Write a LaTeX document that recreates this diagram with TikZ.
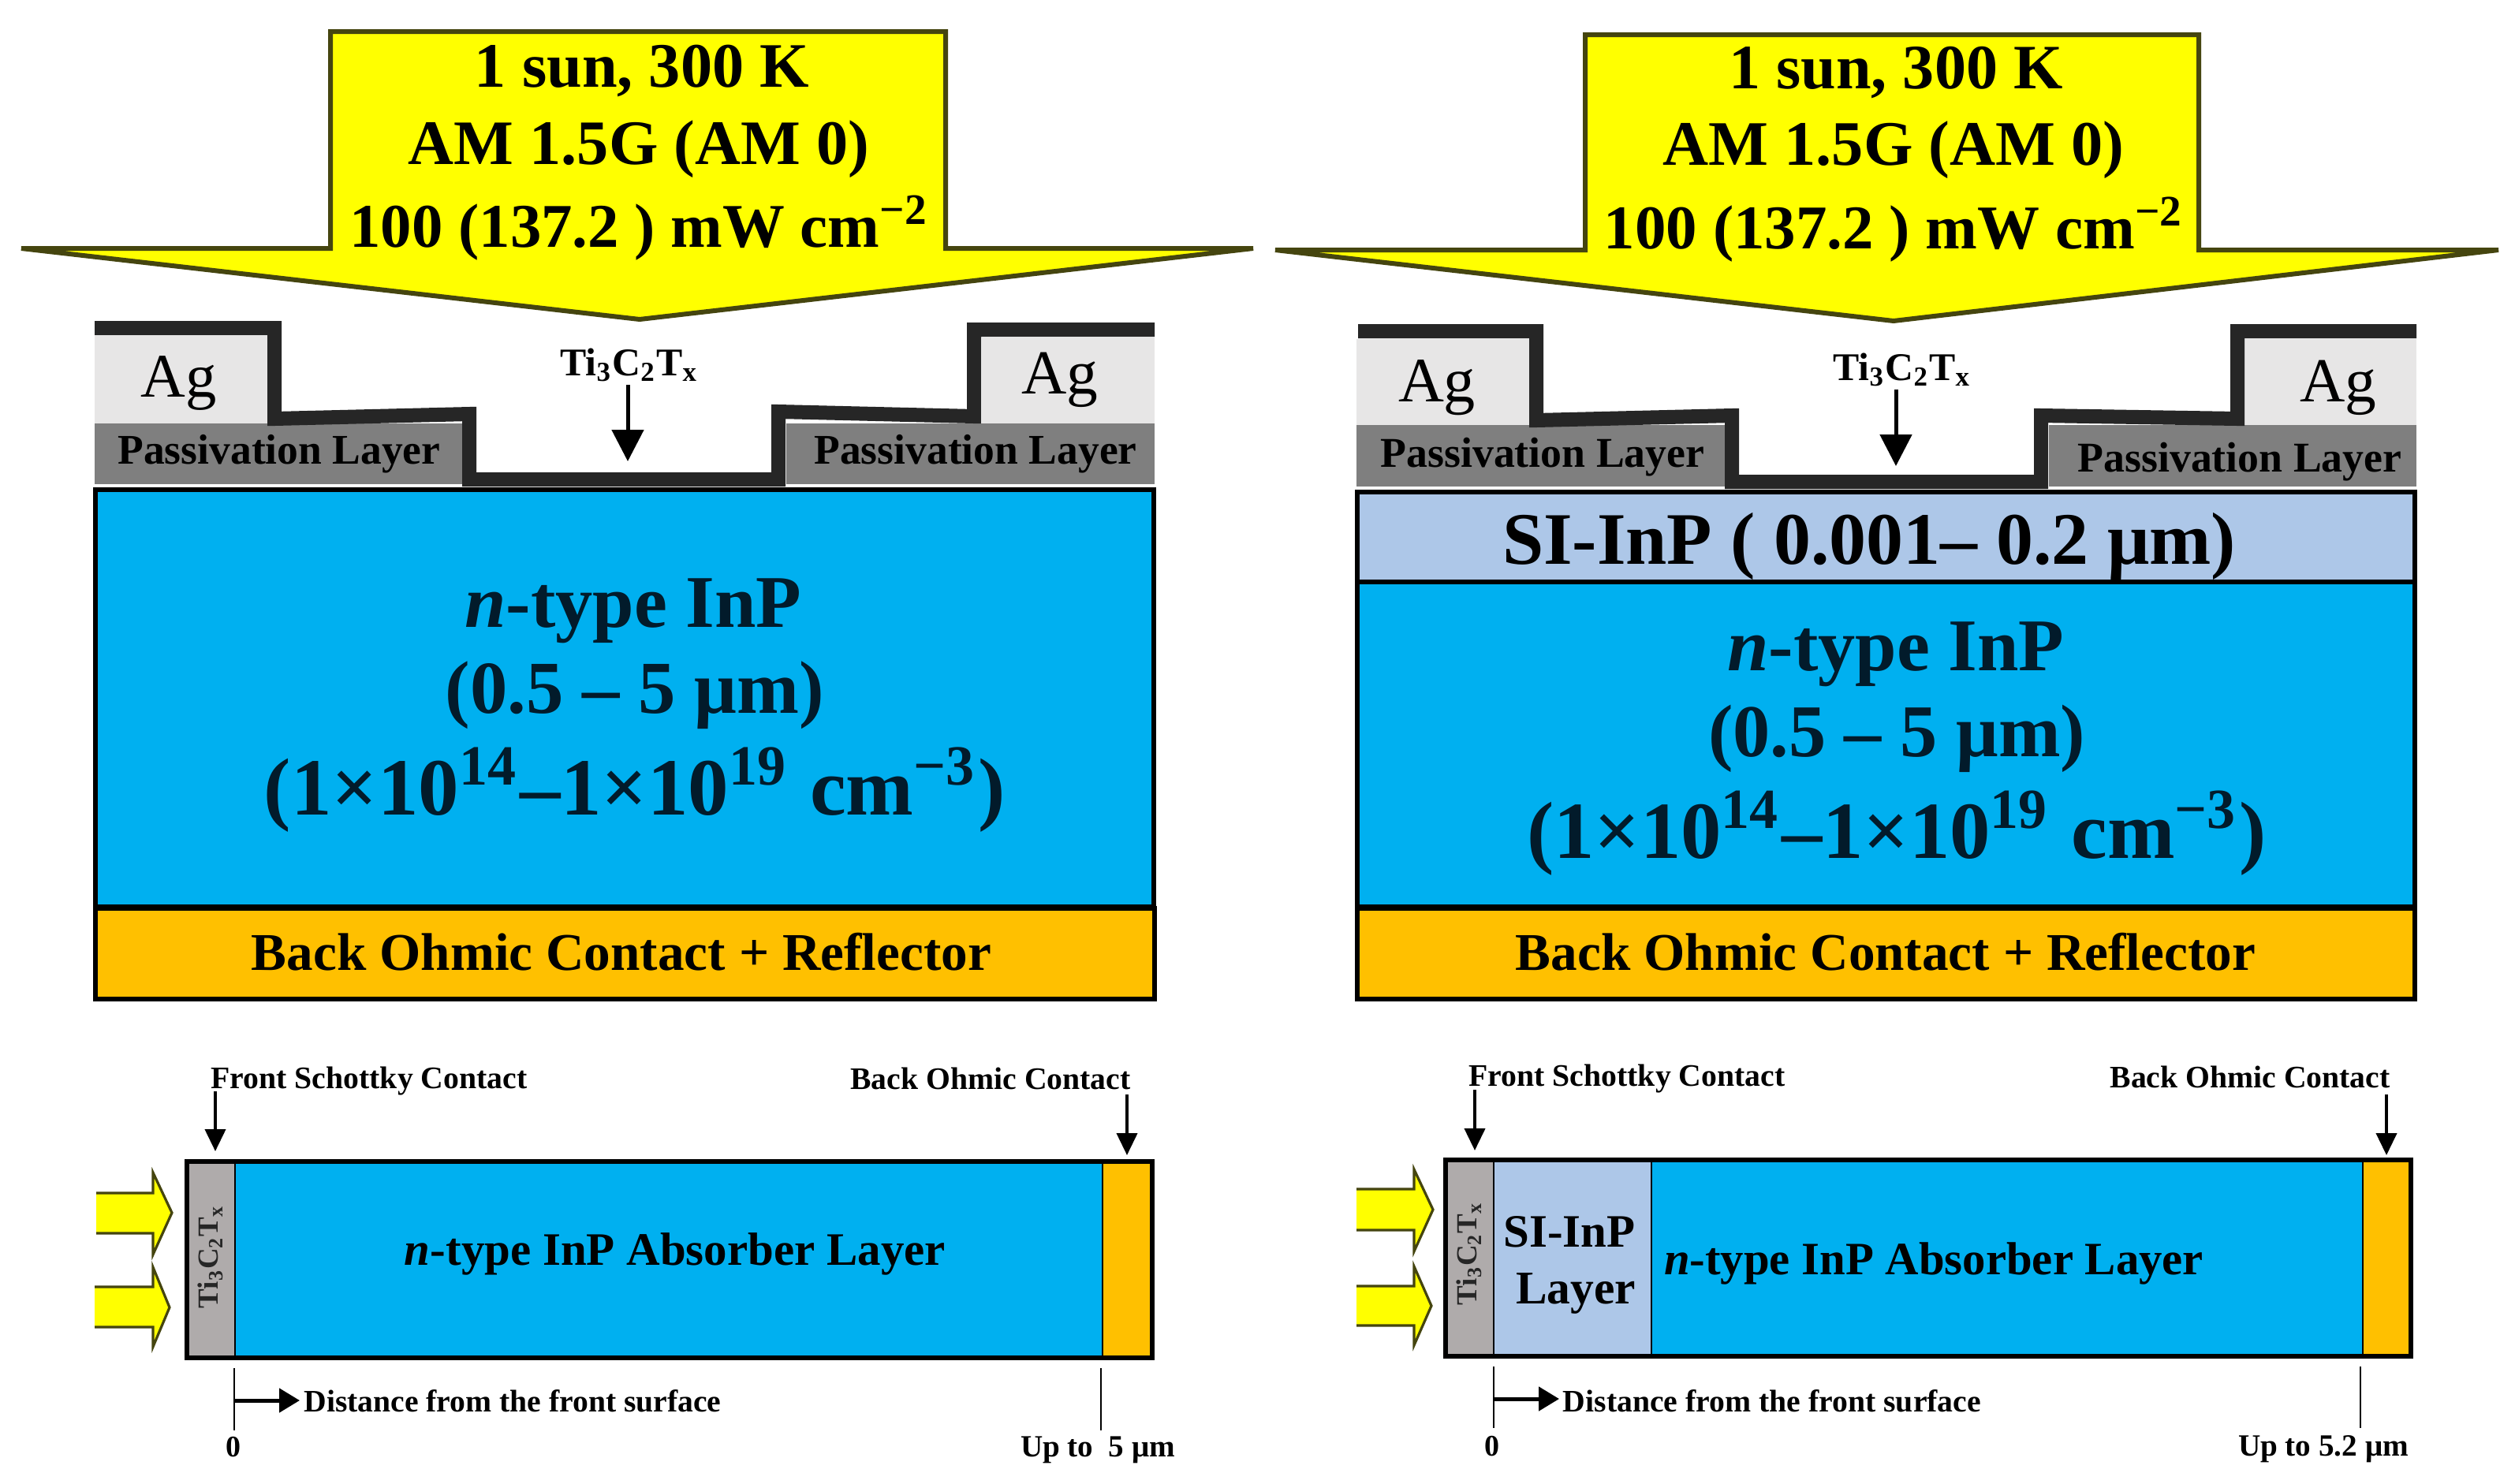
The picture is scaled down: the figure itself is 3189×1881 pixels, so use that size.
\documentclass[tikz,border=0pt]{standalone}
\usepackage{fontspec}
\usepackage{graphicx}
\setmainfont{Liberation Serif}
\usetikzlibrary{arrows.meta}
\definecolor{sunY}{HTML}{FFFF00}
\definecolor{sunE}{HTML}{45450F}
\definecolor{agC}{HTML}{E7E6E6}
\definecolor{pasC}{HTML}{7F7F7F}
\definecolor{conC}{HTML}{262626}
\definecolor{blueC}{HTML}{00B0F0}
\definecolor{orgC}{HTML}{FFC000}
\definecolor{siC}{HTML}{ADC7E8}
\definecolor{tiC}{HTML}{AFABAB}
\definecolor{navyT}{HTML}{021B2B}
\tikzset{
  sunarrow/.style={fill=sunY,draw=sunE,line width=3pt,miter limit=10,line join=miter},
  smallarrow/.style={draw=sunE,line width=1.6pt,line join=miter},
  contactline/.style={draw=conC,line width=9pt,line join=miter,line cap=butt},
  layerbox/.style={draw=black,line width=2.7pt,line join=miter},
  thinsep/.style={draw=black,line width=1.2pt},
  downarr/.style={draw=black,line width=2pt,-{Triangle[width=13pt,length=14pt]}},
  bigdown/.style={draw=black,line width=2.5pt,-{Triangle[width=20pt,length=20pt]}},
  rightarr/.style={draw=black,line width=2.5pt,-{Triangle[width=15pt,length=13pt]}},
  tickline/.style={draw=black,line width=1.3pt},
  txt/.style={inner sep=0pt,outer sep=0pt,anchor=base,align=center},
}
% name, x centre, baseline y, width in image pixels, text
\newcommand{\lbl}[6][]{\node[txt,#1] (#2) at (#3,#4) {\resizebox{\dimexpr #5pt/2\relax}{!}{#6}};}
\begin{document}
\begin{tikzpicture}[x=0.5pt,y=-0.5pt]
\useasboundingbox (0,0) rectangle (3189,1881);
\fill[white] (0,0) rectangle (3189,1881);

%%%%%% LEFT TOP
\path[sunarrow] (419,40) -- (1199,40) -- (1199,315) -- (1589,315) -- (811,405) -- (27,315) -- (419,315) -- cycle;
\fill[agC] (120,426) rectangle (342,537);
\fill[agC] (1245,428) rectangle (1464,537);
\fill[pasC] (120,537) rectangle (587,614);
\fill[pasC] (997,537) rectangle (1464,614);
\path[contactline] (120,416) -- (348,416) -- (348,531) -- (595,525) -- (595,608) -- (987,608) -- (987,522) -- (1235,528) -- (1235,418) -- (1464,418);
\path[layerbox,fill=blueC] (121,621) rectangle (1463,1150);
\path[layerbox,fill=orgC] (121,1152) rectangle (1464,1267);

\lbl{aL}{814}{110}{424}{\bfseries 1 sun, 300 K}
\lbl{bL}{810}{208}{584}{\bfseries AM 1.5G (AM 0)}
\lbl{cL}{811}{313}{735}{\bfseries 100 (137.2 ) mW cm\textsuperscript{−2}}
\lbl{agL1}{227}{503}{96}{Ag}
\lbl{agL2}{1344}{499}{97}{Ag}
\lbl{paL1}{354}{588}{409}{\bfseries Passivation Layer}
\lbl{paL2}{1237}{588}{409}{\bfseries Passivation Layer}
\lbl{tiL}{798}{476}{175}{\bfseries Ti\textsubscript{3}C\textsubscript{2}T\textsubscript{x}}
\coordinate (tiLs) at (796,488);
\coordinate (tiLe) at (796,585);
\draw[bigdown] (tiLs) -- (tiLe);
\lbl[text=navyT]{nL1}{803}{795}{427}{\bfseries\textit{n}-type InP}
\lbl[text=navyT]{nL2}{805}{904}{480}{\bfseries (0.5 – 5 μm)}
\lbl[text=navyT]{nL3}{805}{1033}{940}{\bfseries (1×10\textsuperscript{14}–1×10\textsuperscript{19} cm\textsuperscript{−3})}
\lbl{boL}{788}{1230}{938}{\bfseries Back Ohmic Contact + Reflector}

%%%%%% RIGHT TOP
\path[sunarrow] (2010,44) -- (2788,44) -- (2788,317) -- (3168,317) -- (2401,407) -- (1617,317) -- (2010,317) -- cycle;
\fill[agC] (1720,430) rectangle (1939,539);
\fill[agC] (2846,430) rectangle (3064,539);
\fill[pasC] (1720,539) rectangle (2188,617);
\fill[pasC] (2598,539) rectangle (3064,617);
\path[contactline] (1722,420) -- (1948,420) -- (1948,533) -- (2196,527) -- (2196,611) -- (2588,611) -- (2588,527) -- (2837,531) -- (2837,420) -- (3064,420);
\path[layerbox,fill=blueC] (1721,738) rectangle (3062,1150);
\path[layerbox,fill=siC] (1721,624) rectangle (3062,738);
\path[layerbox,fill=orgC] (1721,1152) rectangle (3062,1267);

\lbl{aR}{2404}{112}{423}{\bfseries 1 sun, 300 K}
\lbl{bR}{2401}{209}{585}{\bfseries AM 1.5G (AM 0)}
\lbl{cR}{2402}{315}{736}{\bfseries 100 (137.2 ) mW cm\textsuperscript{−2}}
\lbl{agR1}{1822}{509}{98}{Ag}
\lbl{agR2}{2965}{509}{97}{Ag}
\lbl{paR1}{1956}{592}{411}{\bfseries Passivation Layer}
\lbl{paR2}{2840}{598}{411}{\bfseries Passivation Layer}
\lbl{tiR}{2412}{482}{175}{\bfseries Ti\textsubscript{3}C\textsubscript{2}T\textsubscript{x}}
\coordinate (tiRs) at (2404,494);
\coordinate (tiRe) at (2404,591);
\draw[bigdown] (tiRs) -- (tiRe);
\lbl{siT}{2370}{715}{930}{\bfseries SI-InP ( 0.001– 0.2 μm)}
\lbl[text=navyT]{nR1}{2404}{850}{427}{\bfseries\textit{n}-type InP}
\lbl[text=navyT]{nR2}{2405}{959}{478}{\bfseries (0.5 – 5 μm)}
\lbl[text=navyT]{nR3}{2405}{1088}{938}{\bfseries (1×10\textsuperscript{14}–1×10\textsuperscript{19} cm\textsuperscript{−3})}
\lbl{boR}{2391}{1230}{938}{\bfseries Back Ohmic Contact + Reflector}

%%%%%% LEFT BOTTOM
\fill[tiC] (237,1473) rectangle (298,1722);
\fill[blueC] (298,1473) rectangle (1398,1722);
\fill[orgC] (1398,1473) rectangle (1461,1722);
\draw[thinsep] (298,1473) -- (298,1722);
\draw[thinsep] (1398,1473) -- (1398,1722);
\path[layerbox] (237,1473) rectangle (1461,1722);
\fill[sunY] (122,1513) -- (194,1513) -- (194,1487) -- (218,1538) -- (194,1591) -- (194,1564) -- (122,1564) -- cycle;
\path[smallarrow] (122,1513) -- (194,1513) -- (194,1487) -- (218,1538) -- (194,1591) -- (194,1564) -- (122,1564);
\fill[sunY] (120,1632) -- (194,1632) -- (194,1607) -- (215,1658) -- (194,1708) -- (194,1683) -- (120,1683) -- cycle;
\path[smallarrow] (120,1632) -- (194,1632) -- (194,1607) -- (215,1658) -- (194,1708) -- (194,1683) -- (120,1683);
\node[txt,anchor=center,rotate=90,text=conC] (tiBL) at (267,1594) {\resizebox{65pt}{!}{\bfseries Ti\textsubscript{3}C\textsubscript{2}T\textsubscript{x}}};
\lbl{frL}{468}{1380}{401}{\bfseries Front Schottky Contact}
\lbl{bkL}{1256}{1381}{355}{\bfseries Back Ohmic Contact}
\coordinate (frLs) at (273,1384); \coordinate (frLe) at (273,1460);
\coordinate (bkLs) at (1429,1388); \coordinate (bkLe) at (1429,1465);
\draw[downarr] (frLs) -- (frLe);
\draw[downarr] (bkLs) -- (bkLe);
\lbl{abL}{856}{1604}{686}{\bfseries\textit{n}-type InP Absorber Layer}
\coordinate (t0La) at (297,1735); \coordinate (t0Lb) at (297,1814);
\coordinate (t1La) at (1396,1735); \coordinate (t1Lb) at (1396,1814);
\coordinate (dLe) at (380,1776); \coordinate (dLs) at (297,1776);
\draw[tickline] (t0La) -- (t0Lb);
\draw[tickline] (t1La) -- (t1Lb);
\draw[rightarr] (dLs) -- (dLe);
\lbl{diL}{650}{1790}{529}{\bfseries Distance from the front surface}
\lbl{zeL}{296}{1847}{19}{\bfseries 0}
\lbl{upL}{1392}{1847}{196}{\bfseries Up to \ 5 μm}

%%%%%% RIGHT BOTTOM
\fill[tiC] (1833,1471) rectangle (1894,1720);
\fill[siC] (1894,1471) rectangle (2094,1720);
\fill[blueC] (2094,1471) rectangle (2996,1720);
\fill[orgC] (2996,1471) rectangle (3057,1720);
\draw[thinsep] (1894,1471) -- (1894,1720);
\draw[thinsep] (2094,1471) -- (2094,1720);
\draw[thinsep] (2996,1471) -- (2996,1720);
\path[layerbox] (1833,1471) rectangle (3057,1720);
\fill[sunY] (1720,1508) -- (1793,1508) -- (1793,1483) -- (1817,1534) -- (1793,1587) -- (1793,1560) -- (1720,1560) -- cycle;
\path[smallarrow] (1720,1508) -- (1793,1508) -- (1793,1483) -- (1817,1534) -- (1793,1587) -- (1793,1560) -- (1720,1560);
\fill[sunY] (1720,1631) -- (1793,1631) -- (1793,1606) -- (1815,1656) -- (1793,1706) -- (1793,1681) -- (1720,1681) -- cycle;
\path[smallarrow] (1720,1631) -- (1793,1631) -- (1793,1606) -- (1815,1656) -- (1793,1706) -- (1793,1681) -- (1720,1681);
\node[txt,anchor=center,rotate=90,text=conC] (tiBR) at (1863,1590) {\resizebox{65pt}{!}{\bfseries Ti\textsubscript{3}C\textsubscript{2}T\textsubscript{x}}};
\lbl{siB1}{1990}{1581}{167}{\bfseries SI-InP}
\lbl{siB2}{1998}{1653}{152}{\bfseries Layer}
\lbl{abR}{2452}{1616}{684}{\bfseries\textit{n}-type InP Absorber Layer}
\lbl{frR}{2063}{1377}{401}{\bfseries Front Schottky Contact}
\lbl{bkR}{2853}{1379}{355}{\bfseries Back Ohmic Contact}
\coordinate (frRs) at (1870,1382); \coordinate (frRe) at (1870,1459);
\coordinate (bkRs) at (3026,1388); \coordinate (bkRe) at (3026,1465);
\draw[downarr] (frRs) -- (frRe);
\draw[downarr] (bkRs) -- (bkRe);
\coordinate (t0Ra) at (1894,1733); \coordinate (t0Rb) at (1894,1811);
\coordinate (t1Ra) at (2993,1733); \coordinate (t1Rb) at (2993,1811);
\coordinate (dRe) at (1977,1774); \coordinate (dRs) at (1894,1774);
\draw[tickline] (t0Ra) -- (t0Rb);
\draw[tickline] (t1Ra) -- (t1Rb);
\draw[rightarr] (dRs) -- (dRe);
\lbl{diR}{2247}{1790}{530}{\bfseries Distance from the front surface}
\lbl{zeR}{1892}{1846}{19}{\bfseries 0}
\lbl{upR}{2946}{1846}{216}{\bfseries Up to 5.2 μm}
\end{tikzpicture}
\end{document}
